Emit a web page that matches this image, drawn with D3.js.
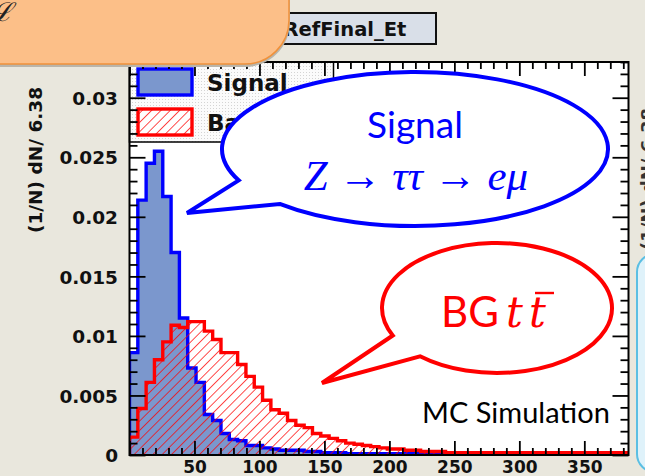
<!DOCTYPE html>
<html>
<head>
<meta charset="utf-8">
<script src="https://cdn.jsdelivr.net/npm/d3@7"></script>
<style>
  html, body { margin: 0; padding: 0; background: #e9e7dd; overflow: hidden; }
  svg { display: block; }
</style>
</head>
<body>
<svg id="chart" width="645" height="476"></svg>
<script>
// ---- data -------------------------------------------------------------
const binWidth = 6.4;   // GeV per bin, 60 bins from 0
const signal = [
  0.0086, 0.0214, 0.0245, 0.0255, 0.0217, 0.0170, 0.0115, 0.0073, 0.0061, 0.0034,
  0.0029, 0.0018, 0.0013, 0.0012, 0.0008, 0.0008, 0.0006, 0.0005, 0.0004, 0.0004,
  0.0004, 0.0003, 0.0003, 0.0002, 0.0002, 0.0002, 0.0001, 0.0001, 0.0001, 0.0001,
  0.0001, 0.0001, 0.0001, 0.0001, 0.0001, 0.0001, 0.00005, 0.00005, 0.00005, 0.00005,
  0.00005, 0.00005, 0.00005, 0.00005, 0.00005, 0.00005, 0.00005, 0.00005, 0.00005, 0.00005,
  0.00005, 0.00005, 0.00005, 0.00005, 0.00005, 0.00005, 0.00005, 0.00005, 0.00005, 0.00005
];
const background = [
  0.0015, 0.0039, 0.0061, 0.0080, 0.0095, 0.0109, 0.0107, 0.0112, 0.0112, 0.0104,
  0.0097, 0.0086, 0.0086, 0.0076, 0.0066, 0.0057, 0.0046, 0.0038, 0.0035, 0.0029,
  0.0025, 0.0023, 0.0018, 0.0016, 0.0014, 0.0012, 0.0010, 0.0009, 0.0008, 0.0007,
  0.0006, 0.0005, 0.0005, 0.0004, 0.0004, 0.0003, 0.0003, 0.0003, 0.0002, 0.0002,
  0.0002, 0.0002, 0.0002, 0.0002, 0.0002, 0.0002, 0.0002, 0.0002, 0.0002, 0.0002,
  0.0002, 0.0002, 0.0002, 0.0002, 0.0002, 0.0002, 0.0002, 0.0002, 0.0002, 0.0002
];
const xTickLabels = [50, 100, 150, 200, 250, 300, 350];
const yTickValues = [0, 0.005, 0.01, 0.015, 0.02, 0.025, 0.03];
const yTickLabels = ["0", "0.005", "0.01", "0.015", "0.02", "0.025", "0.03"];
const legendLabels = ["Signal", "Background"];
const histName = "RefFinal_Et";
const yTitle = "(1/N) dN/ 6.38";

// ---- layout -----------------------------------------------------------
const svg = d3.select("#chart");
const frame = { left: 129.5, right: 628.5, top: 62, bottom: 455 };
const x = d3.scaleLinear().domain([0, 384]).range([frame.left, frame.right]);
const y = d3.scaleLinear().domain([0, 0.033]).range([frame.bottom, frame.top]);

const SIG_FILL = "#7b97cd", SIG_LINE = "#0000ff", BG_LINE = "#ff0000";
const rootFont = "'DejaVu Sans', sans-serif";

const defs = svg.append("defs");
defs.append("clipPath").attr("id", "plotClip")
  .append("rect").attr("x", frame.left).attr("y", frame.top)
  .attr("width", frame.right - frame.left).attr("height", frame.bottom - frame.top);

const hatch = defs.append("pattern").attr("id", "hatch")
  .attr("patternUnits", "userSpaceOnUse").attr("width", 6.6).attr("height", 6.6)
  .attr("patternTransform", "rotate(45)");
hatch.append("line").attr("x1", 0).attr("y1", 0).attr("x2", 0).attr("y2", 6.6)
  .attr("stroke", BG_LINE).attr("stroke-width", 1.4);

const stipple = defs.append("pattern").attr("id", "stipple")
  .attr("patternUnits", "userSpaceOnUse").attr("width", 3).attr("height", 3);
stipple.append("rect").attr("width", 3).attr("height", 3).attr("fill", "#fbfbfb");
stipple.append("rect").attr("width", 1).attr("height", 1).attr("fill", "#d4d4d4");

// plot area background
svg.append("rect").attr("x", frame.left).attr("y", frame.top)
  .attr("width", frame.right - frame.left).attr("height", frame.bottom - frame.top)
  .attr("fill", "#ffffff");

// ---- histograms -------------------------------------------------------
function stepPoints(vals) {
  const pts = vals.map((v, i) => [i * binWidth, v]);
  pts.push([vals.length * binWidth, vals[vals.length - 1]]);
  return pts;
}
const area = d3.area().curve(d3.curveStepAfter)
  .x(d => x(d[0])).y0(y(0)).y1(d => y(d[1]));
const outline = pts => {
  const all = [[pts[0][0], 0], ...pts, [pts[pts.length - 1][0], 0]];
  return d3.line().curve(d3.curveStepAfter).x(d => x(d[0])).y(d => y(d[1]))(all);
};

const plot = svg.append("g").attr("clip-path", "url(#plotClip)");
const sigPts = stepPoints(signal), bgPts = stepPoints(background);
plot.append("path").attr("d", area(sigPts)).attr("fill", SIG_FILL);
plot.append("path").attr("d", outline(sigPts)).attr("fill", "none")
  .attr("stroke", SIG_LINE).attr("stroke-width", 3.4);
plot.append("path").attr("d", area(bgPts)).attr("fill", "url(#hatch)");
plot.append("path").attr("d", outline(bgPts)).attr("fill", "none")
  .attr("stroke", BG_LINE).attr("stroke-width", 3.4);

// ---- legend -----------------------------------------------------------
const leg = svg.append("g");
leg.append("rect").attr("x", frame.left).attr("y", frame.top)
  .attr("width", 204).attr("height", 80)
  .attr("fill", "url(#stipple)").attr("stroke", "#000").attr("stroke-width", 1.5);
const legFills = [SIG_FILL, "url(#hatch)"];
const legLines = [SIG_LINE, BG_LINE];
legendLabels.forEach((lab, i) => {
  const ty = 69 + i * 40;
  leg.append("rect").attr("x", 138).attr("y", ty).attr("width", 54).attr("height", 26)
    .attr("fill", i === 1 ? "#fff" : legFills[i]);
  if (i === 1) leg.append("rect").attr("x", 138).attr("y", ty).attr("width", 54).attr("height", 26)
    .attr("fill", legFills[i]);
  leg.append("rect").attr("x", 138).attr("y", ty).attr("width", 54).attr("height", 26)
    .attr("fill", "none").attr("stroke", legLines[i]).attr("stroke-width", 3.4);
  leg.append("text").attr("x", 207).attr("y", ty + 22)
    .attr("font-family", rootFont).attr("font-weight", "bold").attr("font-size", 23)
    .attr("fill", "#111").text(lab);
});

// ---- axes ticks -------------------------------------------------------
const xMinor = d3.range(0, 384, 10).filter(v => v % 50 !== 0);
const xMajor = d3.range(0, 384, 50);
const yMinor = d3.range(0, 34).map(i => i / 1000).filter(v => Math.round(v * 1000) % 5 !== 0);
function ticks(axisFn, scale, vals, size, tx, ty) {
  const g = svg.append("g").attr("transform", `translate(${tx},${ty})`)
    .call(axisFn(scale).tickValues(vals).tickSize(size).tickFormat(""));
  g.select(".domain").remove();
  g.selectAll("line").attr("stroke", "#000").attr("stroke-width", 1.8);
  return g;
}
// bottom axis: ticks point up into the frame
ticks(d3.axisTop, x, xMinor, 7, 0, frame.bottom);
ticks(d3.axisTop, x, xMajor, 14, 0, frame.bottom);
// top axis
ticks(d3.axisBottom, x, xMinor, 7, 0, frame.top);
ticks(d3.axisBottom, x, xMajor, 14, 0, frame.top);
// left axis
ticks(d3.axisRight, y, yMinor, 8, frame.left, 0);
ticks(d3.axisRight, y, yTickValues, 16, frame.left, 0);
// right axis
ticks(d3.axisLeft, y, yMinor, 8, frame.right, 0);
ticks(d3.axisLeft, y, yTickValues, 16, frame.right, 0);

svg.append("rect").attr("x", frame.left).attr("y", frame.top)
  .attr("width", frame.right - frame.left).attr("height", frame.bottom - frame.top)
  .attr("fill", "none").attr("stroke", "#000").attr("stroke-width", 2);

// tick labels
const yLab = svg.append("g").attr("transform", `translate(118,0)`)
  .call(d3.axisLeft(y).tickValues(yTickValues).tickSize(0).tickPadding(0)
    .tickFormat((d, i) => yTickLabels[i]));
yLab.select(".domain").remove();
yLab.selectAll("text").attr("font-family", rootFont).attr("font-weight", "bold")
  .attr("font-size", 18.5).attr("fill", "#111").attr("dy", "0.36em");

const xLab = svg.append("g").attr("transform", `translate(0,${frame.bottom})`)
  .call(d3.axisBottom(x).tickValues(xTickLabels).tickSize(0).tickPadding(0));
xLab.select(".domain").remove();
xLab.selectAll("text").attr("font-family", rootFont).attr("font-weight", "bold")
  .attr("font-size", 17).attr("fill", "#111").attr("dy", null).attr("y", 17.5);

svg.append("text").attr("transform", "translate(42,233) rotate(-90)")
  .attr("font-family", rootFont).attr("font-weight", "bold").attr("font-size", 18.5)
  .attr("fill", "#111").text(yTitle);

// histogram name box
svg.append("rect").attr("x", 250).attr("y", 13).attr("width", 186).attr("height", 31)
  .attr("fill", "#d9dfe8").attr("stroke", "#111").attr("stroke-width", 2);
svg.append("text").attr("x", 345).attr("y", 36).attr("text-anchor", "middle")
  .attr("font-family", rootFont).attr("font-weight", "bold").attr("font-size", 19.5)
  .attr("fill", "#111").text(histName);

// ---- annotations ------------------------------------------------------
function callout(cx, cy, rx, ry, aDeg, bDeg, tip, color) {
  const p = t => [cx + rx * Math.cos(t * Math.PI / 180), cy + ry * Math.sin(t * Math.PI / 180)];
  const A = p(aDeg), B = p(bDeg);
  const d = `M${A[0]},${A[1]} L${tip[0]},${tip[1]} L${B[0]},${B[1]} ` +
            `A${rx},${ry} 0 1 0 ${A[0]},${A[1]} Z`;
  svg.append("path").attr("d", d).attr("fill", "#fff")
    .attr("stroke", color).attr("stroke-width", 4).attr("stroke-linejoin", "miter");
}
callout(415, 149, 193, 77, 156, 134.5, [187, 213], "#0000ff");
callout(497, 308, 115, 65, 155, 132, [322, 383], "#ff0000");

const slideFont = "Lato, 'Open Sans', sans-serif";
svg.append("text").attr("x", 415).attr("y", 138).attr("text-anchor", "middle")
  .attr("font-family", slideFont).attr("font-size", 37).attr("fill", "#0000ff").text("Signal");

const mathT = svg.append("text").attr("x", 416).attr("y", 190).attr("text-anchor", "middle")
  .attr("font-family", "'Liberation Serif', serif").attr("font-size", 43).attr("fill", "#0000ff");
mathT.append("tspan").attr("font-style", "italic").text("Z");
mathT.append("tspan").text(" \u2192 ");
mathT.append("tspan").attr("font-style", "italic").text("\u03C4\u03C4");
mathT.append("tspan").text(" \u2192 ");
mathT.append("tspan").attr("font-style", "italic").text("e\u03BC");

const bgT = svg.append("text").attr("y", 327).attr("fill", "#ff0000");
bgT.append("tspan").attr("x", 441).attr("font-family", slideFont).attr("font-size", 42).text("BG");
bgT.append("tspan").attr("x", 506).attr("font-family", "'DejaVu Serif', serif")
  .attr("font-style", "italic").attr("font-size", 42).text("t");
bgT.append("tspan").attr("x", 529).attr("font-family", "'DejaVu Serif', serif")
  .attr("font-style", "italic").attr("font-size", 42).text("t");
svg.append("line").attr("x1", 535).attr("x2", 554).attr("y1", 293).attr("y2", 293)
  .attr("stroke", "#ff0000").attr("stroke-width", 2.4);

svg.append("text").attr("x", 422).attr("y", 423)
  .attr("font-family", slideFont).attr("font-size", 29).attr("fill", "#000").text("MC Simulation");

// side panel edge on the right
svg.append("text").attr("transform", "translate(654,250) rotate(-90)")
  .attr("font-family", rootFont).attr("font-weight", "bold").attr("font-size", 18)
  .attr("fill", "#333").text(yTitle);
svg.append("rect").attr("x", 637).attr("y", 254).attr("width", 60).attr("height", 218)
  .attr("rx", 18).attr("fill", "#dff2fa").attr("stroke", "#5bbfe3").attr("stroke-width", 2);

// orange note box, top left
svg.append("path").attr("d", "M-10,-10 H290 V20 A45,45 0 0 1 245,65 H-10 Z")
  .attr("fill", "#b9b5ab").attr("transform", "translate(0,2)");
svg.append("path").attr("d", "M-10,-10 H289 V20 A44,44 0 0 1 245,64 H-10 Z")
  .attr("fill", "#fcbf88").attr("stroke", "#f0913a").attr("stroke-width", 1.5);
svg.append("text").attr("x", -9).attr("y", 21)
  .attr("font-family", "'Liberation Serif', serif").attr("font-style", "italic")
  .attr("font-size", 26).attr("fill", "#222").text("\u2112");
</script>
</body>
</html>
